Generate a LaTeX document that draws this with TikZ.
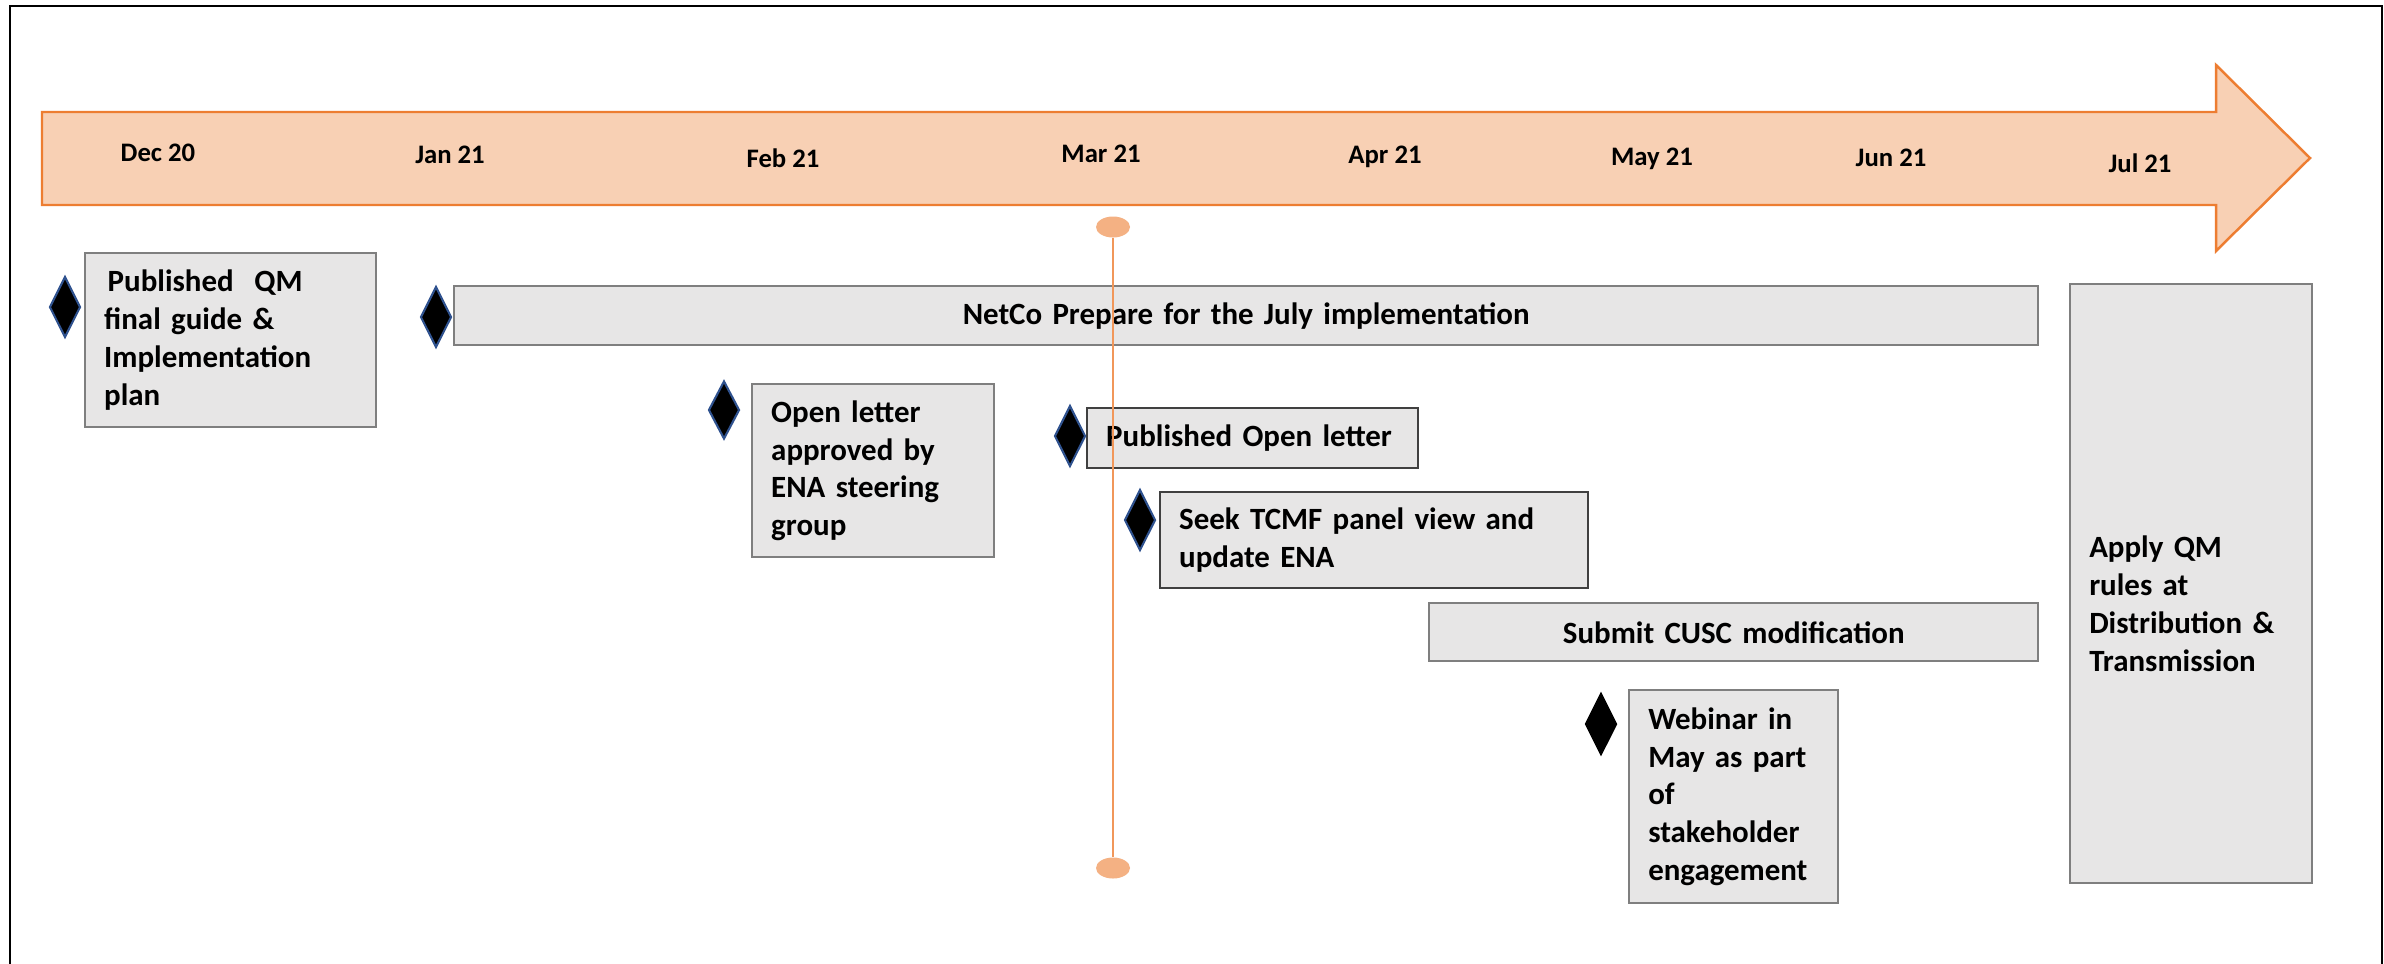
\documentclass[tikz,border=0pt]{standalone}
\usepackage{fontspec}
\setmainfont{Carlito}
\usetikzlibrary{shapes.geometric}

\definecolor{timefill}{HTML}{F8D0B4}
\definecolor{timeline}{HTML}{ED7D31}
\definecolor{dotfill}{HTML}{F4B183}
\definecolor{boxfill}{HTML}{E7E6E6}
\definecolor{boxline}{HTML}{7F7F7F}
\definecolor{msline}{HTML}{2F528F}

\tikzset{
	month/.style={font=\fontsize{7.6}{9}\selectfont\bfseries},
	task/.style={draw=boxline, line width=0.7pt, fill=boxfill, anchor=north west,
		inner xsep=0.19cm, inner ysep=0pt, align=left,
		font=\fontsize{8.8}{10.8}\selectfont\bfseries},
	milestone/.style={diamond, draw=msline, fill=black, line width=0.6pt,
		inner sep=0pt, minimum width=0.31cm, minimum height=0.61cm},
	dot/.style={ellipse, fill=dotfill, inner sep=0pt,
		minimum width=0.34cm, minimum height=0.21cm},
}

\begin{document}
\begin{tikzpicture}
		\useasboundingbox (0,0) rectangle (23.84,-9.63);
		\fill[white] (0,0) rectangle (23.84,-9.63);
		\draw[line width=0.8pt] (0.10,-9.80) -- (0.10,-0.06) -- (23.82,-0.06) -- (23.82,-9.80);
		
		% time arrow
		\draw[timeline, fill=timefill, line width=0.7pt]
		(0.42,-1.12) -- (22.16,-1.12) -- (22.16,-0.65) -- (23.10,-1.58)
		-- (22.16,-2.51) -- (22.16,-2.05) -- (0.42,-2.05) -- cycle;
		
		\foreach \n/\x/\y/\t in {dec/1.58/1.53/Dec 20, jan/4.50/1.55/Jan 21,
			feb/7.83/1.58/Feb 21, mar/11.01/1.54/Mar 21, apr/13.85/1.57/Apr 21,
			may/16.52/1.59/May 21, jun/18.91/1.58/Jun 21, jul/21.40/1.63/Jul 21}
		\node[month] (\n) at (\x,-\y) {\t};
		
		% tasks
		\node[task, text width=2.53cm, minimum width=2.91cm, minimum height=1.74cm]
		(guide) at (0.84,-2.52) {\hspace{1pt}Published\ \ QM\\final guide \&\\Implementation\\plan};
		\node[task, align=center, text width=15.46cm, minimum width=15.84cm, minimum height=0.59cm]
		(netco) at (4.53,-2.85) {NetCo Prepare for the July implementation};
		\node[task, text width=2.04cm, minimum width=2.42cm, minimum height=1.73cm]
		(openletter) at (7.51,-3.83) {Open letter\\approved by\\ENA steering\\group};
		\node[task, draw=black!75, text width=2.93cm, minimum width=3.31cm, minimum height=0.60cm]
		(published) at (10.86,-4.07) {Published Open letter};
		\node[task, draw=black!75, text width=3.90cm, minimum width=4.28cm, minimum height=0.96cm]
		(tcmf) at (11.59,-4.91) {Seek TCMF panel view and\\update ENA};
		\node[task, align=center, text width=5.71cm, minimum width=6.09cm, minimum height=0.58cm]
		(cusc) at (14.28,-6.02) {Submit CUSC modification};
		\node[task, text width=1.71cm, minimum width=2.09cm, minimum height=2.13cm]
		(webinar) at (16.28,-6.89) {Webinar in\\May as part\\of\\stakeholder\\engagement};
		\node[task, text width=2.04cm, minimum width=2.42cm, minimum height=5.99cm]
		(apply) at (20.69,-2.83) {\rule{0pt}{0.62cm}Apply QM\\rules at\\Distribution \&\\Transmission};
		
		% milestones
		\node[milestone] (mguide) at (0.65,-3.07) {};
		\node[milestone] (mnetco) at (4.36,-3.17) {};
		\node[milestone, minimum height=0.58cm] (mopen) at (7.24,-4.10) {};
		\node[milestone] (mpub) at (10.70,-4.36) {};
		\node[milestone] (mtcmf) at (11.40,-5.20) {};
		\node[milestone, draw=black] (mweb) at (16.01,-7.24) {};
		
		% march marker
		\node[dot] (mtop) at (11.13,-2.27) {};
		\node[dot] (mbot) at (11.13,-8.68) {};
		\draw[timeline!80, line width=0.3pt] (mtop) -- (mbot);
	\end{tikzpicture}
\end{document}
